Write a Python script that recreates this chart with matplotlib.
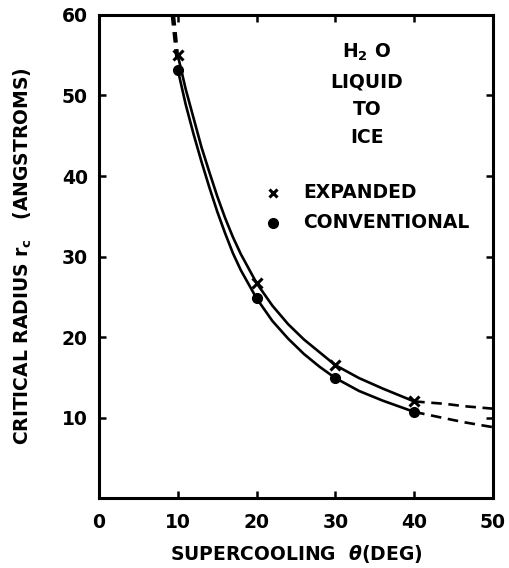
import matplotlib
matplotlib.use("Agg")
import matplotlib.pyplot as plt

plt.rcParams.update({
    "font.family": "DejaVu Sans",
    "font.weight": "bold",
    "axes.labelweight": "bold",
    "font.size": 13.5,
    "mathtext.fontset": "custom",
    "mathtext.rm": "DejaVu Sans:bold",
    "mathtext.bf": "DejaVu Sans:bold",
    "mathtext.it": "DejaVu Sans:italic:bold",
})

# measured points (supercooling deg, critical radius in angstroms)
theta_pts = [10, 20, 30, 40]
expanded_pts = [55.0, 26.7, 16.5, 12.0]
conventional_pts = [53.2, 24.8, 14.9, 10.7]

# hand-drawn fitted curves
curve_x = [10, 11, 12, 13, 14, 15, 16, 17, 18, 20, 22, 24, 26, 28, 30, 33, 36, 38, 40]
exp_curve_y = [55.0, 50.8, 47.2, 43.6, 40.5, 37.5, 34.8, 32.4, 30.3, 26.7, 23.9, 21.6,
               19.7, 18.1, 16.5, 14.9, 13.6, 12.8, 12.0]
conv_curve_y = [53.2, 48.9, 45.2, 41.8, 38.6, 35.6, 32.9, 30.4, 28.3, 24.8, 22.0, 19.8,
                17.9, 16.3, 14.9, 13.3, 12.1, 11.4, 10.7]

# dashed extrapolations
exp_hi_x, exp_hi_y = [9.5, 10], [60, 55.0]
conv_hi_x, conv_hi_y = [9.25, 10], [60, 53.2]
lo_x = [40, 43.9, 46.4, 50]
exp_lo_y = [12.0, 11.7, 11.4, 11.1]
conv_lo_y = [10.7, 9.9, 9.4, 8.8]

fig = plt.figure(figsize=(5.09, 5.68), dpi=100)
ax = fig.add_axes([0.1945, 0.1232, 0.774, 0.8504])

lw = 1.9
ax.plot(curve_x, exp_curve_y, color="black", lw=lw)
ax.plot(curve_x, conv_curve_y, color="black", lw=lw)
for xs, ys in [(exp_hi_x, exp_hi_y), (conv_hi_x, conv_hi_y),
               (lo_x, exp_lo_y), (lo_x, conv_lo_y)]:
    ax.plot(xs, ys, color="black", lw=lw, ls=(0, (4, 2.5)))

ax.plot(theta_pts, expanded_pts, "x", color="black", ms=7, mew=2.2)
ax.plot(theta_pts, conventional_pts, "o", color="black", ms=7)

# legend, drawn by hand like the original
ax.plot([22.1], [37.9], "x", color="black", ms=6, mew=2.2)
ax.plot([22.1], [34.2], "o", color="black", ms=7)
ax.text(25.9, 37.9, "EXPANDED", va="center", ha="left")
ax.text(25.9, 34.2, "CONVENTIONAL", va="center", ha="left")

for txt, y in [(r"H$_{\mathbf{2}}$ O", 55.4), ("LIQUID", 51.7), ("TO", 48.3), ("ICE", 44.8)]:
    ax.text(34.0, y, txt, ha="center", va="center")

ax.set_xlim(0, 50)
ax.set_ylim(0, 60)
ax.set_xticks([0, 10, 20, 30, 40, 50])
ax.set_yticks([10, 20, 30, 40, 50, 60])
ax.tick_params(direction="in", length=5, width=1.8, top=True, right=True)
ax.tick_params(axis="x", pad=11)
ax.tick_params(axis="y", pad=8)
for s in ax.spines.values():
    s.set_linewidth(2.2)

ax.set_xlabel(r"SUPERCOOLING  $\theta$(DEG)", labelpad=8)
ax.set_ylabel(r"CRITICAL RADIUS $\mathbf{r_c}$   (ANGSTROMS)", labelpad=20)

fig.savefig("out.png", dpi=100)
